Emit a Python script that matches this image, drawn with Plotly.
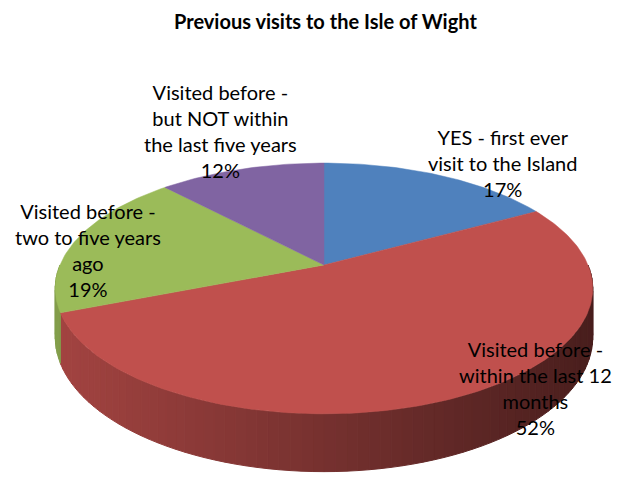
import math
import plotly.graph_objects as go

# ---------------- data ----------------
categories = [
    "YES - first ever<br>visit to the Island",
    "Visited before -<br>within the last 12<br>months",
    "Visited before -<br>two to five years<br>ago",
    "Visited before -<br>but NOT within<br>the last five years",
]
values = [17, 52, 19, 12]
slice_colors = ["#4F81BD", "#C0504D", "#9BBB59", "#8064A2"]
title_text = "Previous visits to the Isle of Wight"

# ---------------- layout constants (page pixels) ----------------
PAGE_W, PAGE_H = 621, 477
OFF = 8                     # default page body margin
W, H = PAGE_W - OFF, PAGE_H - OFF
CX, CY = 324, 265           # projected centre of the pie top
A, B = 264, 121             # horizontal / vertical radii
K = 0.187                   # perspective strength
DEPTH = 47                  # thickness of the pie
LABEL_XY = [(502, 163), (535, 388), (88, 250), (220, 131)]
TITLE_XY = (325, 21)
FONT = "Lato"


def proj(theta_deg, drop=0.0):
    t = math.radians(theta_deg)
    u, v = math.sin(t), -math.cos(t)
    s = 1.0 / (1.0 - K * v)
    return CX + A * u * s, CY + B * v * s + drop * s


def hex_rgb(h):
    h = h.lstrip("#")
    return tuple(int(h[i:i + 2], 16) for i in (0, 2, 4))


def shade(hexcol, x):
    f = 0.85 - 0.47 * (x - 56) / 539.0
    f = max(0.3, min(0.9, f))
    r, g, b = hex_rgb(hexcol)
    return "rgb(%d,%d,%d)" % (r * f, g * f, b * f)


total = float(sum(values))
bounds = []
acc = 0.0
for v in values:
    a0 = acc / total * 360.0
    acc += v
    a1 = acc / total * 360.0
    bounds.append((a0, a1))

fig = go.Figure()

# ---- side walls (front half only) ----
STEP = 2.0
for (a0, a1), col in zip(bounds, slice_colors):
    lo, hi = max(a0, 90.0), min(a1, 270.0)
    if lo >= hi:
        continue
    t = lo
    while t < hi - 1e-9:
        t2 = min(t + STEP, hi)
        ts = [t + (t2 - t) * i / 4.0 for i in range(5)]
        top = [proj(x) for x in ts]
        bot = [proj(x, DEPTH) for x in reversed(ts)]
        pts = top + bot + [top[0]]
        xm = (top[0][0] + top[-1][0]) / 2.0
        c = shade(col, xm)
        fig.add_trace(go.Scatter(
            x=[p[0] for p in pts], y=[p[1] for p in pts],
            mode="lines", fill="toself", fillcolor=c,
            line=dict(color=c, width=1), hoverinfo="skip", showlegend=False))
        t = t2

# ---- top faces ----
for (a0, a1), col, name in zip(bounds, slice_colors, categories):
    n = max(2, int((a1 - a0) / 1.0))
    rim = [proj(a0 + (a1 - a0) * i / n) for i in range(n + 1)]
    pts = [(CX, CY)] + rim + [(CX, CY)]
    fig.add_trace(go.Scatter(
        x=[p[0] for p in pts], y=[p[1] for p in pts],
        mode="lines", fill="toself", fillcolor=col,
        line=dict(color=col, width=0.5), hoverinfo="skip",
        name=name.replace("<br>", " "), showlegend=False))

# ---- data labels ----
for name, v, (lx, ly) in zip(categories, values, LABEL_XY):
    pct = round(v / total * 100)
    fig.add_annotation(
        x=lx, y=ly, xref="x", yref="y",
        text="%s<br>%d%%" % (name, pct),
        showarrow=False, align="center",
        xanchor="center", yanchor="middle",
        font=dict(family=FONT, size=20, color="#000000"))

# ---- title ----
fig.add_annotation(
    x=TITLE_XY[0], y=TITLE_XY[1], xref="x", yref="y",
    text="<b>%s</b>" % title_text, showarrow=False,
    xanchor="center", yanchor="middle",
    font=dict(family=FONT, size=20, color="#000000"))

fig.update_layout(
    width=W, height=H,
    margin=dict(l=0, r=0, t=0, b=0),
    paper_bgcolor="white", plot_bgcolor="white",
    xaxis=dict(range=[OFF, PAGE_W], visible=False, fixedrange=True),
    yaxis=dict(range=[PAGE_H, OFF], visible=False, fixedrange=True),
    hovermode=False,
    showlegend=False,
)

fig.write_html("out.html")
